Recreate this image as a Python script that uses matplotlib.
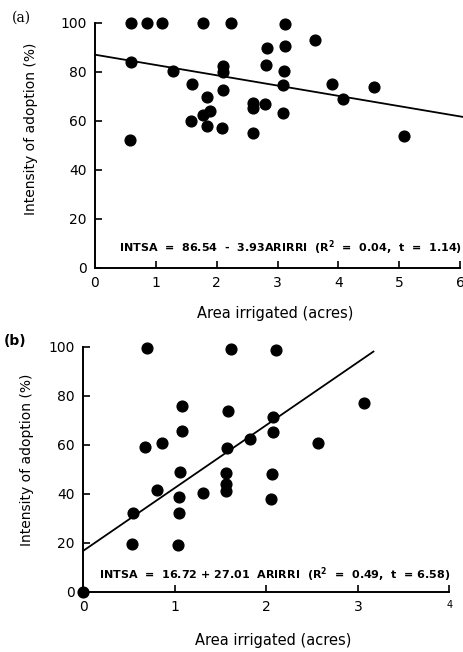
import numpy as np
from matplotlib import pyplot as plt

# panel (a) data
xa = [0.59, 0.85, 1.10, 1.77, 2.23, 3.13, 3.61, 2.82, 3.13, 0.59, 2.81, 2.11,
      2.11, 1.29, 3.10, 1.60, 3.09, 3.89, 4.59, 2.10, 1.84, 4.08, 2.59, 2.59,
      2.79, 1.89, 1.78, 3.09, 1.58, 1.84, 2.09, 2.59, 5.07, 0.57]
ya = [100, 100, 100, 100, 99.9, 99.5, 92.8, 89.6, 90.6, 83.9, 82.8, 82.5,
      79.8, 80.3, 80.5, 74.9, 74.5, 75.0, 73.8, 72.5, 69.9, 68.9, 67.2, 65.1,
      66.8, 64.2, 62.6, 63.1, 59.8, 57.9, 56.9, 55.1, 54.0, 52.2]
line_a_x = [0, 6.05]
line_a_y = [87.0, 61.6]
eq_a = r"INTSA  =  86.54  -  3.93ARIRRI  (R$^{\mathbf{2}}$  =  0.04,  t  =  1.14)"

# panel (b) data
xb = [0.70, 1.61, 2.11, 3.07, 1.08, 1.58, 2.07, 1.08, 2.07, 1.82, 2.56, 0.86,
      0.67, 1.57, 1.06, 1.56, 2.06, 1.56, 1.56, 0.80, 1.31, 1.05, 2.05, 0.54,
      1.05, 0.53, 1.03, 0.0]
yb = [99.6, 98.9, 98.6, 76.9, 75.9, 73.6, 71.2, 65.7, 65.2, 62.2, 60.5, 60.5,
      59.2, 58.6, 48.8, 48.4, 48.2, 43.8, 41.2, 41.5, 40.1, 38.8, 38.0, 32.2,
      32.0, 19.5, 18.9, 0.0]
line_b_x = [0, 3.17]
line_b_y = [16.7, 98.0]
eq_b = r"INTSA  =  16.72 + 27.01  ARIRRI  (R$^{\mathbf{2}}$  =  0.49,  t  = 6.58)"

yticks = [0, 20, 40, 60, 80, 100]

fig = plt.figure(figsize=(4.64, 6.52), dpi=100)
ax1 = fig.add_axes([0.2047, 0.589, 0.787, 0.376])
ax2 = fig.add_axes([0.1795, 0.0925, 0.789, 0.3758])


def style(ax, xmax, xticks):
    ax.set_xlim(0, xmax)
    ax.set_ylim(0, 100)
    for s in ['top', 'right']:
        ax.spines[s].set_visible(False)
    for s in ['left', 'bottom']:
        ax.spines[s].set_linewidth(1.4)
    ax.set_xticks(xticks)
    ax.set_yticks(yticks)
    ax.tick_params(direction='in', length=5, width=1.2, labelsize=10, pad=6)
    ax.set_ylabel("Intensity of adoption (%)", fontsize=10)
    ax.set_xlabel("Area irrigated (acres)", fontsize=10.5)


style(ax1, 6, [0, 1, 2, 3, 4, 5, 6])
ax1.scatter(xa, ya, s=60, c='black', clip_on=False, zorder=3)
ax1.plot(line_a_x, line_a_y, color='black', lw=1.3, clip_on=False)
ax1.text(0.39, 8.2, eq_a, fontsize=8, fontweight='bold', va='center')
ax1.yaxis.set_label_coords(-0.156, 0.569)
ax1.xaxis.set_label_coords(0.493, -0.155)

style(ax2, 4, [0, 1, 2, 3, 4])
ax2.scatter(xb, yb, s=60, c='black', clip_on=False, zorder=3)
ax2.plot(line_b_x, line_b_y, color='black', lw=1.3, clip_on=False)
ax2.text(0.17, 6.8, eq_b, fontsize=8, fontweight='bold', va='center')
ax2.yaxis.set_label_coords(-0.135, 0.54)
ax2.xaxis.set_label_coords(0.518, -0.169)
ax2.get_xticklabels()[-1].set_fontsize(7)

fig.text(0.026, 0.973, "(a)", fontsize=10, family='serif', va='center')
fig.text(0.008, 0.477, "(b)", fontsize=10, fontweight='bold', va='center')

plt.savefig('out.png', dpi=100)
